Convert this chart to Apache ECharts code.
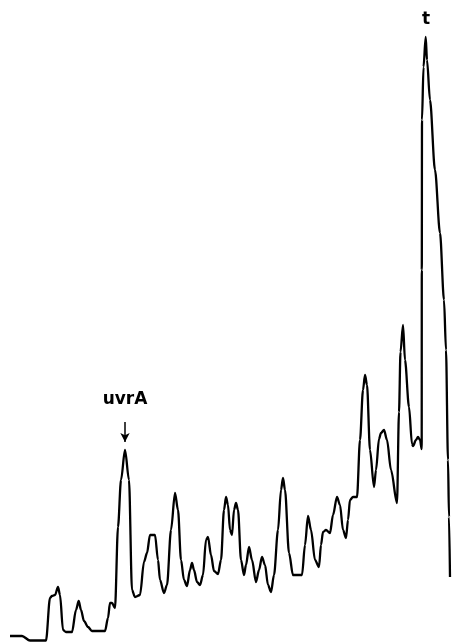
<!DOCTYPE html>
<html>
<head>
<meta charset="utf-8">
<script src="https://cdn.jsdelivr.net/npm/echarts@6/dist/echarts.min.js"></script>
<style>
html,body{margin:0;padding:0;background:#fff;}
#chart{width:452px;height:642px;}
</style>
</head>
<body>
<div id="chart"></div>
<script>
// Densitometer trace: migration position (px-scale) and optical density (arbitrary units)
const positions = [10,22,30,46,50,52,55,58,60,63,66,72,76,78.7,81,84,88,92,105,108,110,112,115,118,121,125,129,132,135,140,144,147,150,155,158,160,164,167,171,175,178,181,184,187,190,192,194,197,200,203,206,208,211,214,218,221,224,226,228,230,232,234,236,238,241,244,246,249,252,256,259,262,265,268,271,274,278,281,283,285,289,293,302,305,308,311,315,319,321,323,326,330,333,337,340,343,346,348,350,353,357,360,363,365,367,370,374,376,379,381,384,387,391,397,399,400.5,403,405,409,412,413,416,418,420,421.7,421.8,422,423.5,425.7,427,430,435,440,444,446,448,449,450];
const density   = [6,6,1.5,1.5,44,46,47,55,47,12,10,10,32,41,32,21,15,11,11,24,39,39,34,115,162,192,162,52,45,47,80,89,107,107,82,62,49,57,112,149,132,82,62,56,72,79,72,60,57,67,102,105,87,71,68,82,132,145,137,112,107,132,139,132,82,67,77,95,82,60,72,85,77,57,50,67,112,152,164,152,89,67,67,97,126,112,82,75,97,110,112,109,127,145,137,112,104,122,142,145,145,202,252,267,257,192,155,172,203,209,212,202,172,139,230,290,317,282,235,198,196,202,205,202,193,372,522,575,605,582,542,472,409,342,292,182,125,65];
const peakLabels = [
  {name: 'uvrA', pos: 125, height: 242},
  {name: 't', pos: 426, height: 622}
];
const arrowPos = 125, arrowFrom = 220, arrowTo = 200;

const data = positions.map((p, i) => [p, density[i]]);
const chart = echarts.init(document.getElementById('chart'));
chart.setOption({
  animation: false,
  backgroundColor: '#fff',
  grid: {left: 0, right: 0, top: 0, bottom: 0},
  xAxis: {type: 'value', min: 0, max: 452, show: false},
  yAxis: {type: 'value', min: 0, max: 642, show: false},
  series: [{
    type: 'line',
    data: data,
    showSymbol: false,
    smooth: 0.3,
    smoothMonotone: 'x',
    lineStyle: {color: '#000', width: 2.3},
    markPoint: {
      symbol: 'circle',
      symbolSize: 1,
      itemStyle: {color: 'rgba(0,0,0,0)'},
      label: {
        show: true, position: 'inside', color: '#000',
        fontFamily: 'DejaVu Sans', fontWeight: 'bold', fontSize: 17,
        formatter: p => p.name
      },
      data: peakLabels.map(l => ({name: l.name, coord: [l.pos, l.height]}))
    },
    markLine: {
      silent: true,
      symbol: ['none', 'arrow'],
      symbolSize: [7, 9],
      label: {show: false},
      lineStyle: {color: '#000', width: 1.5, type: 'solid'},
      data: [[{coord: [arrowPos, arrowFrom]}, {coord: [arrowPos, arrowTo]}]]
    }
  }]
});
</script>
</body>
</html>
